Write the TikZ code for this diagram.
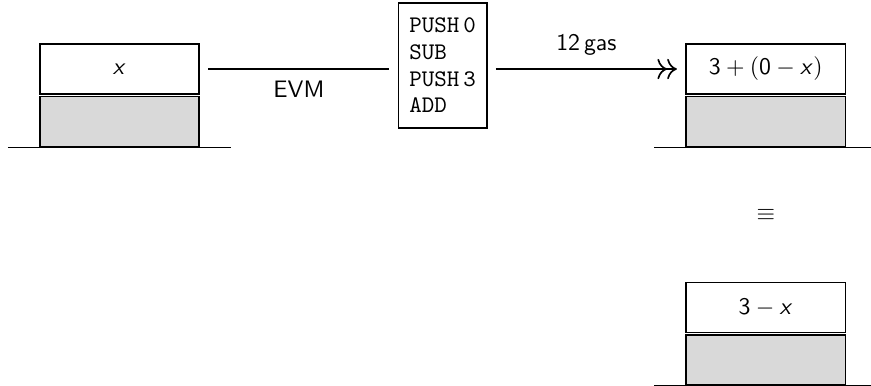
\documentclass[tikz,border=0pt]{standalone}
\usepackage{tikz}
\usetikzlibrary{arrows.meta,positioning,calc}
\definecolor{slotgray}{HTML}{D9D9D9}
\DeclareMathAlphabet{\mathsfsl}{OT1}{cmss}{m}{sl}

\begin{document}
\begin{tikzpicture}[
  font=\sffamily,
  node distance=0.4pt,
  slot/.style={draw,line width=0.7pt,minimum width=67pt,minimum height=21pt,inner sep=0pt},
  filler/.style={slot,fill=slotgray},
  prog/.style={draw,line width=0.6pt,align=left,font=\fontsize{10}{11.2}\selectfont\ttfamily,
    inner xsep=4.6pt,inner ysep=6.4pt},
  arrow/.style={line width=0.7pt,shorten <=3.5pt,shorten >=3.5pt},
  groundline/.style={line width=0.7pt}]
\useasboundingbox (0,0) rectangle (365.8pt,-162.1pt);
% stack before execution
\node[slot] (before) at (50.2pt,-29pt) {$\mathsfsl{x}$};
\node[filler,below=of before] (beforebase) {};
% bytecode
\node[prog,right=83pt of before,yshift=1.5pt] (code) {PUSH\,0\\SUB\\PUSH\,3\\ADD};
% stack after execution
\node[slot,right=83pt of code.east |- before] (after) {$\mathsf{3}+(\mathsf{0}-\mathsfsl{x})$};
\node[filler,below=of after] (afterbase) {};
% simplified stack
\node[slot,below=56.4pt of afterbase] (simpl) {$\mathsf{3}-\mathsfsl{x}$};
\node[filler,below=of simpl] (simplbase) {};
\node (equiv) at ($(afterbase.south)!0.5!(simpl.north)$) {$\equiv$};
% floors
\draw[groundline] ([xshift=-13pt]beforebase.south west) -- ([xshift=13pt]beforebase.south east);
\draw[groundline] ([xshift=-13pt]afterbase.south west) -- ([xshift=13pt]afterbase.south east);
\draw[groundline] ([xshift=-13pt]simplbase.south west) -- ([xshift=13pt]simplbase.south east);
% transitions
\draw[arrow] (before.east) -- node[below=1.5pt] {EVM} (before -| code.west);
\draw[arrow,-{To[scale=1.3]To[scale=1.3]}] (before -| code.east) -- node[above=2pt] {12\,gas} (after.west);
\end{tikzpicture}
\end{document}
